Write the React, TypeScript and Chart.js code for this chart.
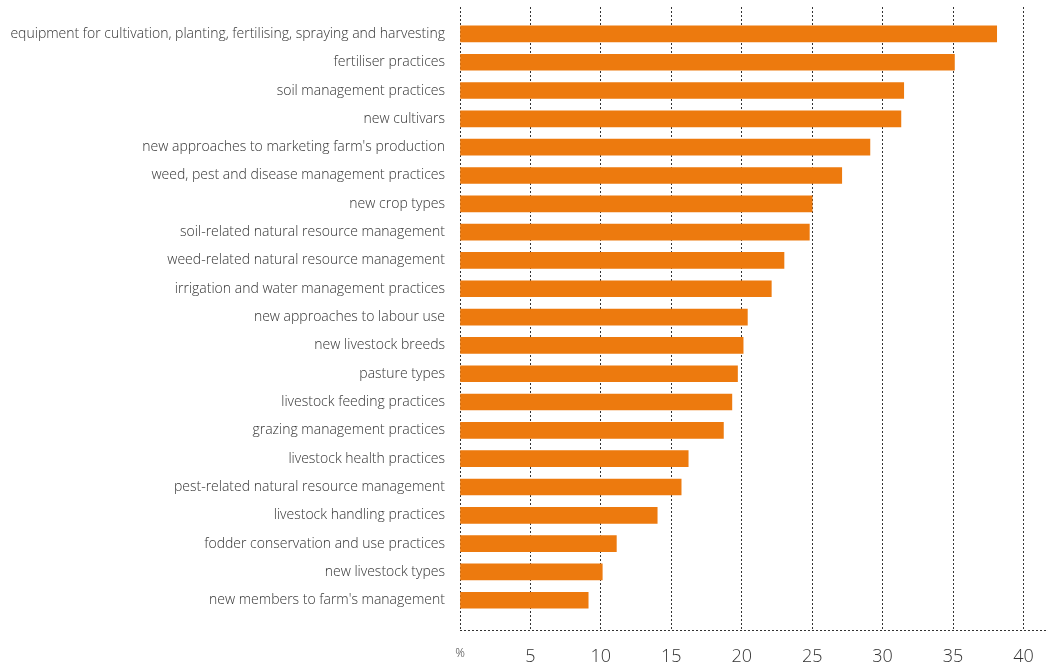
import React, { useEffect, useRef } from 'react';
import { Chart, registerables } from 'chart.js';

Chart.register(...registerables);

const practices = [
  'equipment for cultivation, planting, fertilising, spraying and harvesting',
  'fertiliser practices',
  'soil management practices',
  'new cultivars',
  "new approaches to marketing farm's production",
  'weed, pest and disease management practices',
  'new crop types',
  'soil-related natural resource management',
  'weed-related natural resource management',
  'irrigation and water management practices',
  'new approaches to labour use',
  'new livestock breeds',
  'pasture types',
  'livestock feeding practices',
  'grazing management practices',
  'livestock health practices',
  'pest-related natural resource management',
  'livestock handling practices',
  'fodder conservation and use practices',
  'new livestock types',
  "new members to farm's management",
];

const percentages = [
  38.1, 35.1, 31.5, 31.3, 29.1, 27.1, 25.0, 24.8, 23.0, 22.1, 20.4,
  20.1, 19.7, 19.3, 18.7, 16.2, 15.7, 14.0, 11.1, 10.1, 9.1,
];

const xTicks = [0, 5, 10, 15, 20, 25, 30, 35, 40];

const FONT = '"Open Sans", "Noto Sans", sans-serif';
const Y_MIN = -0.95;
const Y_MAX = 21.05;

const App: React.FC = () => {
  const canvasRef = useRef<HTMLCanvasElement>(null);

  useEffect(() => {
    if (!canvasRef.current) return;
    const chart = new Chart(canvasRef.current, {
      type: 'bar',
      data: {
        datasets: [
          {
            data: percentages.map((v, i) => ({ x: v, y: i })),
            backgroundColor: '#ED7A0E',
            barThickness: 16,
          },
        ],
      },
      options: {
        indexAxis: 'y',
        animation: false,
        responsive: false,
        layout: { padding: { top: 7, right: 0, bottom: 0, left: 0 } },
        plugins: { legend: { display: false }, tooltip: { enabled: false } },
        scales: {
          x: {
            type: 'linear',
            min: 0,
            max: 41.6,
            afterBuildTicks: (scale: any) => {
              scale.ticks = xTicks.map(v => ({ value: v }));
            },
            afterFit: (scale: any) => {
              scale.height = 38;
              scale.paddingLeft = 0;
              scale.paddingRight = 0;
            },
            grid: {
              color: '#333',
              lineWidth: 1,
              drawTicks: false,
            },
            border: { display: false, dash: [2, 2] },
            ticks: {
              padding: 16,
              color: '#333',
              font: (ctx: any) =>
                ctx.tick && ctx.tick.value === 0
                  ? { family: FONT, size: 12, weight: '300' }
                  : { family: FONT, size: 18, weight: '300' },
              callback: (v: any) => (v === 0 ? '%' : String(v)),
            },
          },
          y: {
            type: 'linear',
            reverse: true,
            offset: false,
            min: Y_MIN,
            max: Y_MAX,
            afterBuildTicks: (scale: any) => {
              scale.ticks = practices.map((_, i) => ({ value: i }));
              scale.ticks.push({ value: Y_MAX });
            },
            afterFit: (scale: any) => {
              scale.width = 460;
              scale.paddingTop = 0;
              scale.paddingBottom = 0;
            },
            grid: {
              offset: false,
              drawTicks: false,
              lineWidth: 1,
              color: (ctx: any) =>
                ctx.tick && ctx.tick.value === Y_MAX ? '#333' : 'rgba(0,0,0,0)',
            },
            border: { display: false, dash: [2, 2] },
            ticks: {
              padding: 15,
              color: '#333',
              font: { family: FONT, size: 14, weight: '300' },
              callback: (v: any) => practices[v] ?? '',
            },
          },
        },
      },
    });
    return () => chart.destroy();
  }, []);

  return (
    <div style={{ position: 'fixed', left: 0, top: 0, width: 1046, height: 668, background: '#fff' }}>
      <canvas ref={canvasRef} width={1046} height={668} style={{ width: 1046, height: 668 }} />
    </div>
  );
};

export default App;
